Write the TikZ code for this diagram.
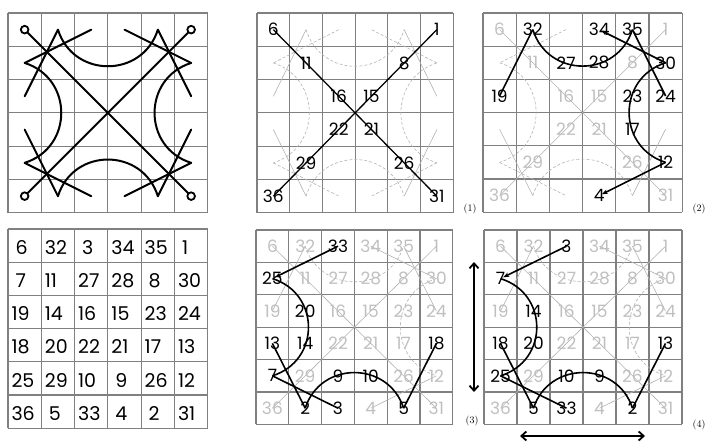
\documentclass[tikz,border=0pt]{standalone}
\usepackage{fontspec}
\newfontfamily\numfont{Poppins}
\usetikzlibrary{arrows.meta}
\newcommand\symDA{(0.5,0.5)--(5.5,5.5)}
\newcommand\symDB{(5.5,0.5)--(0.5,5.5)}
\newcommand\symTLa{(1.5,0.5)--(0.5,2.5)}
\newcommand\symTLb{(2.5,0.5)--(0.5,1.5)}
\newcommand\symTRa{(4.5,0.5)--(5.5,2.5)}
\newcommand\symTRb{(5.5,1.5)--(3.5,0.5)}
\newcommand\symBLa{(0.5,3.5)--(1.5,5.5)}
\newcommand\symBLb{(0.5,4.5)--(2.5,5.5)}
\newcommand\symBRa{(5.5,3.5)--(4.5,5.5)}
\newcommand\symBRb{(5.5,4.5)--(3.5,5.5)}
\newcommand\symAT{(1.5,0.5) .. controls (1.962,1.966) and (4.038,1.966) .. (4.5,0.5)}
\newcommand\symAB{(1.5,5.5) .. controls (1.962,4.034) and (4.038,4.034) .. (4.5,5.5)}
\newcommand\symAL{(0.5,1.5) .. controls (1.966,1.962) and (1.966,4.038) .. (0.5,4.5)}
\newcommand\symAR{(5.5,1.5) .. controls (4.034,1.962) and (4.034,4.038) .. (5.5,4.5)}
\newcommand\drawgridlines{\foreach \i in {0,...,6}{\draw[gl] (\i,0)--(\i,6); \draw[gl] (0,\i)--(6,\i);}}
\begin{document}
\begin{tikzpicture}[x=1pt,y=-1pt,
  gl/.style={black!50,line width=1.1pt},
  sym/.style={line width=2pt,line cap=round},
  blk/.style={line width=1.6pt},
  gry/.style={gray!60,line width=0.6pt},
  gryd/.style={gray!60,line width=0.6pt,dash pattern=on 3pt off 2pt},
  num/.style={font=\numfont\fontsize{17}{17}\selectfont,inner sep=0pt},
  gnum/.style={num,text=gray!50},
  fnum/.style={font=\numfont\fontsize{19}{19}\selectfont,inner sep=0pt,anchor=west},
  arr/.style={-{Stealth[length=6pt,width=4.5pt]}},
  dbl/.style={line width=1.8pt,{Straight Barb[length=5pt,width=9pt]}-{Straight Barb[length=5pt,width=9pt]}},
  lab/.style={font=\fontsize{10}{10}\selectfont,inner sep=0pt}]
\useasboundingbox (0,0) rectangle (707,443);
% ---------- top-left symbol
\begin{scope}[shift={(8,13)},x=33.3pt,y=-33.3pt]
\drawgridlines
\draw[sym] \symDA; \draw[sym] \symDB;
\draw[sym] \symTLa; \draw[sym] \symTLb; \draw[sym] \symTRa; \draw[sym] \symTRb;
\draw[sym] \symBLa; \draw[sym] \symBLb; \draw[sym] \symBRa; \draw[sym] \symBRb;
\draw[sym] \symAT; \draw[sym] \symAB; \draw[sym] \symAL; \draw[sym] \symAR;
\foreach \p in {(0.5,0.5),(5.5,0.5),(0.5,5.5),(5.5,5.5)}
  \draw[line width=1.8pt,fill=white] \p circle[radius=3.8pt];
\end{scope}
% ---------- (1)
\begin{scope}[shift={(257,13)},x=32.7pt,y=-33.3pt]
\drawgridlines
\draw[gry] \symTLa; \draw[gryd] \symTLb; \draw[gry] \symTRa; \draw[gryd] \symTRb;
\draw[gry] \symBLa; \draw[gryd] \symBLb; \draw[gry] \symBRa; \draw[gryd] \symBRb;
\draw[gryd] \symAT; \draw[gryd] \symAB; \draw[gryd] \symAL; \draw[gryd] \symAR;
\draw[line width=1.3pt] \symDA; \draw[line width=1.3pt] \symDB;
\foreach \c/\r/\n in {0/0/6,5/0/1,1/1/11,4/1/8,2/2/16,3/2/15,2/3/22,3/3/21,1/4/29,4/4/26,0/5/36,5/5/31}
  \node[num] (a\n) at ({\c+0.5},{\r+0.5}) {\n};
\end{scope}
% ---------- (2)
\begin{scope}[shift={(483,13)},x=33.2pt,y=-33.2pt]
\drawgridlines
\draw[gry] \symDA; \draw[gry] \symDB;
\draw[gryd] \symTLb; \draw[gry] \symBLa; \draw[gryd] \symBLb; \draw[gry] \symBRa;
\draw[gryd] \symAB; \draw[gryd] \symAL;
\foreach \c/\r/\n in {0/0/6,5/0/1,1/1/11,4/1/8,2/2/16,3/2/15,2/3/22,3/3/21,1/4/29,4/4/26,0/5/36,5/5/31}
  \node[gnum] (b\n) at ({\c+0.5},{\r+0.5}) {\n};
\draw[blk] \symTLa; \draw[blk] \symAT; \draw[blk] \symTRa; \draw[blk] \symAR;
\draw[blk,arr,shorten >=2pt] \symTRb;
\draw[blk,arr,shorten >=3pt] \symBRb;
\foreach \c/\r/\n in {1/0/32,3/0/34,4/0/35,2/1/27,3/1/28,5/1/30,0/2/19,4/2/23,5/2/24,4/3/17,5/4/12,3/5/4}
  \node[num] (b\n) at ({\c+0.5},{\r+0.5}) {\n};
\end{scope}
% ---------- final square
\begin{scope}[shift={(8,229)},x=33.3pt,y=-33.2pt]
\drawgridlines
\foreach \c/\r/\n in {0/0/6,2/0/3,5/0/1,0/1/7,4/1/8,3/4/9,1/5/5,3/5/4,4/5/2}
  \node[fnum] (f\n) at ({\c+0.22},{\r+0.55}) {\n};
\foreach \c/\r/\n in {1/0/32,3/0/34,4/0/35,1/1/11,2/1/27,3/1/28,5/1/30,
  0/2/19,1/2/14,2/2/16,3/2/15,4/2/23,5/2/24,0/3/18,1/3/20,2/3/22,3/3/21,4/3/17,5/3/13,
  0/4/25,1/4/29,2/4/10,4/4/26,5/4/12,0/5/36,2/5/33,5/5/31}
  \node[fnum] (f\n) at ({\c+0.1},{\r+0.55}) {\n};
\end{scope}
% ---------- (3)
\begin{scope}[shift={(256,230)},x=32.8pt,y=-32.4pt]
\drawgridlines
\draw[gry] \symDA; \draw[gry] \symDB;
\draw[gry] \symTLa; \draw[gryd] \symAT; \draw[gry] \symTRa; \draw[gry] \symTRb;
\draw[gryd] \symAR; \draw[gry] \symBRb;
\foreach \c/\r/\n in {0/0/6,1/0/32,3/0/34,4/0/35,5/0/1,1/1/11,2/1/27,3/1/28,4/1/8,5/1/30,
  0/2/19,2/2/16,3/2/15,4/2/23,5/2/24,2/3/22,3/3/21,4/3/17,1/4/29,4/4/26,5/4/12,0/5/36,3/5/4,5/5/31}
  \node[gnum] (c\n) at ({\c+0.5},{\r+0.5}) {\n};
\draw[blk,arr,shorten >=3pt] \symTLb; \draw[blk] \symAL; \draw[blk] \symBLa;
\draw[blk] \symBLb; \draw[blk] \symAB; \draw[blk] \symBRa;
\foreach \c/\r/\n in {2/0/33,0/1/25,1/2/20,0/3/13,1/3/14,5/3/18,0/4/7,2/4/9,3/4/10,1/5/2,2/5/3,4/5/5}
  \node[num] (c\n) at ({\c+0.5},{\r+0.5}) {\n};
\end{scope}
% ---------- (4)
\begin{scope}[shift={(484,230)},x=33pt,y=-32.4pt]
\drawgridlines
\draw[gry] \symDA; \draw[gry] \symDB;
\draw[gry] \symTLa; \draw[gryd] \symAT; \draw[gry] \symTRa; \draw[gry] \symTRb;
\draw[gryd] \symAR; \draw[gry] \symBRb;
\foreach \c/\r/\n in {0/0/6,1/0/32,3/0/34,4/0/35,5/0/1,1/1/11,2/1/27,3/1/28,4/1/8,5/1/30,
  0/2/19,2/2/16,3/2/15,4/2/23,5/2/24,2/3/22,3/3/21,4/3/17,1/4/29,4/4/26,5/4/12,0/5/36,3/5/4,5/5/31}
  \node[gnum] (d\n) at ({\c+0.5},{\r+0.5}) {\n};
\draw[blk,arr,shorten >=3pt] \symTLb; \draw[blk] \symAL; \draw[blk] \symBLa;
\draw[blk] \symBLb; \draw[blk] \symAB; \draw[blk] \symBRa;
\foreach \c/\r/\n in {2/0/3,0/1/7,1/2/14,0/3/18,1/3/20,5/3/13,0/4/25,2/4/10,3/4/9,1/5/5,2/5/33,4/5/2}
  \node[num] (d\n) at ({\c+0.5},{\r+0.5}) {\n};
\end{scope}
% ---------- arrows and labels
\coordinate (va) at (474,262); \coordinate (vb) at (474,392);
\coordinate (ha) at (520,436); \coordinate (hb) at (645,436);
\draw[dbl] (va)--(vb);
\draw[dbl] (ha)--(hb);
\node[lab] (l1) at (470,209) {(1)};
\node[lab] (l2) at (699,209) {(2)};
\node[lab] (l3) at (472,421) {(3)};
\node[lab] (l4) at (699,425) {(4)};
\end{tikzpicture}
\end{document}
